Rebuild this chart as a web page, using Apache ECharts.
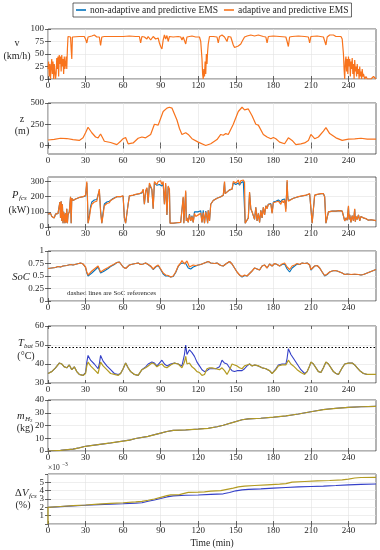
<!DOCTYPE html>
<html><head><meta charset="utf-8">
<script src="https://cdn.jsdelivr.net/npm/echarts@6/dist/echarts.min.js"></script>
<style>html,body{margin:0;padding:0;background:#fff}#c{width:380px;height:550px}</style>
</head><body><div id="c"></div>
<script>
// ---------------- DATA ----------------
const xTicks = [0,30,60,90,120,150,180,210,240];
const xMax = 262;
const seriesNames = ['non-adaptive and predictive EMS','adaptive and predictive EMS'];

const speedTicks = [0,25,50,75,100];
const speedAdaptive = [[0,20],[0.5,35],[1,5],[1.5,30],[2,0],[2.5,25],[3,40],[3.5,10],[4,35],[4.5,0],[5,30],[5.5,15],[6,0],[6.5,10],[7,42],[7.5,20],[8,45],[8.5,5],[9,48],[9.5,30],[10,45],[10.5,15],[11,48],[11.5,25],[12,40],[12.5,10],[13,45],[13.5,20],[14,30],[14.5,45],[15,20],[15.5,60],[16,85],[17,85],[18,84],[18.5,60],[19,40],[19.5,84],[20,85],[25,85],[29,85],[30,80],[31,72],[32,84],[35,86],[37,88],[39,84],[41,84],[42,67],[43,84],[45,85],[50,85],[55,85],[60,85],[65,86],[70,85],[73,85],[74,72],[75,85],[77,84],[79,80],[80,85],[82,78],[84,85],[86,80],[88,82],[89,72],[90,65],[91,60],[92,78],[93,88],[94,80],[95,87],[96,75],[97,85],[98,87],[100,84],[104,85],[106,84],[107,78],[108,84],[110,70],[111,84],[115,86],[118,84],[121,84],[122,75],[123,40],[123.5,10],[124,0],[124.5,20],[125,5],[125.5,35],[126,10],[126.5,50],[127,30],[127.5,55],[128,70],[129,85],[132,85],[135,84],[136,72],[137,85],[139,88],[141,84],[142,86],[143,75],[144,85],[146,84],[147,80],[148,68],[149,63],[150,64],[152,66],[154,70],[155,75],[156,72],[157,84],[158,80],[159,86],[162,88],[165,86],[168,88],[172,85],[174,84],[175,72],[176,85],[180,86],[185,85],[190,84],[191,75],[192,65],[193,84],[195,85],[200,86],[205,85],[208,84],[209,72],[210,85],[215,86],[220,84],[221,80],[222,68],[223,84],[225,88],[228,88],[230,85],[234,85],[235,80],[236,50],[236.5,20],[237,0],[237.5,35],[238,45],[238.5,15],[239,40],[239.5,10],[240,45],[240.5,25],[241,40],[241.5,5],[242,35],[242.5,20],[243,42],[243.5,10],[244,30],[244.5,0],[245,38],[245.5,15],[246,25],[246.5,5],[247,30],[247.5,10],[248,20],[248.5,0],[249,25],[249.5,5],[250,15],[250.5,0],[251,20],[251.5,5],[252,10],[253,0],[254,5],[255,0],[256,3],[258,0],[260,5],[262,0]];

const altTicks = [0,250,500];
const altitude = [[0,65],[5,72],[10,85],[15,82],[20,70],[25,60],[28,90],[30,150],[32,215],[35,150],[38,100],[40,90],[42,135],[44,80],[45,50],[50,35],[55,10],[58,50],[60,80],[62,95],[64,20],[68,30],[72,85],[75,100],[76,80],[78,90],[82,130],[85,250],[88,240],[92,400],[95,440],[96,420],[97,450],[99,440],[100,460],[103,300],[105,200],[107,130],[110,150],[112,130],[113,145],[115,80],[120,40],[126,0],[130,20],[135,70],[138,130],[140,120],[142,140],[144,130],[148,250],[152,400],[155,450],[157,420],[158,440],[160,430],[163,350],[166,250],[168,240],[172,130],[175,100],[178,80],[180,95],[182,80],[185,40],[189,20],[192,90],[195,60],[198,10],[202,20],[205,30],[208,60],[210,130],[213,80],[216,100],[220,170],[222,210],[225,140],[230,90],[235,60],[240,75],[245,78],[250,85],[255,75],[262,75]];

const powerTicks = [0,100,200,300];
const powerAdaptive = [[0,85],[1,75],[2,90],[3,70],[4,80],[5,60],[6,85],[7,75],[8,90],[9,80],[9.5,165],[10,60],[10.5,170],[11,40],[11.5,150],[12,25],[12.5,100],[13,70],[13.5,25],[14,90],[14.5,30],[15,120],[15.5,25],[16,80],[17,100],[18,200],[18.5,25],[19,190],[20,175],[22,185],[25,195],[28,200],[30,210],[31,300],[31.5,200],[32,25],[33,60],[34,120],[35,150],[37,165],[39,170],[40,175],[41,250],[42,100],[43,25],[44,80],[45,140],[47,155],[49,160],[50,175],[52,185],[55,200],[58,200],[60,205],[61,60],[62,25],[63,25],[64,150],[65,205],[68,210],[70,215],[73,220],[75,230],[76,250],[77,150],[78,240],[79,260],[80,160],[81,290],[82,300],[83,250],[84,120],[85,300],[86,310],[87,280],[88,300],[89,290],[90,305],[91,280],[92,300],[93,150],[94,290],[95,80],[96,270],[97,250],[97.5,25],[100,25],[103,28],[106,30],[107,35],[108,200],[108.5,25],[109,30],[110,240],[110.5,40],[111,60],[112,30],[113,80],[114,40],[115,70],[116,30],[117,90],[118,70],[120,80],[122,90],[123,30],[124,95],[125,25],[126,100],[127,60],[127.5,25],[128,110],[129,40],[130,150],[132,175],[135,190],[138,200],[140,210],[141,300],[141.5,220],[143,230],[145,245],[147,250],[148,300],[149,310],[150,290],[151,300],[152,310],[153,280],[154,305],[155,300],[156,310],[157,295],[157.5,25],[159,30],[160,60],[161,230],[162,120],[163,100],[164,90],[165,50],[166,130],[167,40],[168,90],[169,30],[170,110],[171,60],[172,130],[173,80],[174,140],[175,120],[176,150],[178,150],[179,90],[180,160],[182,165],[184,170],[186,150],[187,175],[188,160],[189,180],[190,100],[191,310],[191.5,200],[192,170],[194,180],[196,190],[198,195],[200,200],[203,205],[206,210],[209,220],[210,215],[211,25],[212,30],[213,210],[215,215],[218,220],[220,220],[221,200],[222,25],[223,30],[224,100],[227,105],[230,105],[233,108],[235,105],[236,110],[237,40],[238,60],[239,45],[240,140],[240.5,50],[241,80],[242,30],[243,75],[244,40],[245,120],[245.5,35],[246,70],[247,50],[248,80],[249,40],[250,70],[252,60],[254,55],[256,45],[258,48],[260,45],[262,42]];
const powerNonAdaptive = [[0,85],[1,75],[2,90],[3,70],[4,80],[5,60],[6,85],[7,75],[8,90],[9,80],[9.5,165],[10,60],[10.5,170],[11,40],[11.5,150],[12,25],[12.5,100],[13,70],[13.5,25],[14,90],[14.5,30],[15,120],[15.5,25],[16,80],[17,100],[18,200],[18.5,25],[19,190],[20,175],[22,185],[25,195],[28,200],[30,205],[31,290],[31.5,190],[32,25],[33,75],[34,135],[35,165],[37,178],[39,182],[40,185],[41,240],[42,110],[43,25],[44,95],[45,152],[47,165],[49,170],[50,180],[52,188],[55,200],[58,200],[60,205],[61,60],[62,25],[63,25],[64,150],[65,205],[68,210],[70,215],[73,220],[75,225],[76,245],[77,150],[78,235],[79,255],[80,160],[81,280],[82,290],[83,245],[84,120],[85,290],[86,300],[87,275],[88,285],[89,280],[90,290],[91,270],[92,285],[93,150],[94,280],[95,80],[96,265],[97,245],[97.5,25],[100,25],[103,28],[106,30],[107,35],[108,195],[108.5,25],[109,30],[110,230],[110.5,40],[111,60],[112,30],[113,85],[114,40],[115,75],[116,30],[117,100],[118,90],[120,100],[122,108],[123,30],[124,110],[125,25],[126,105],[127,60],[127.5,25],[128,110],[129,40],[130,150],[132,175],[135,190],[138,200],[140,210],[141,295],[141.5,220],[143,230],[145,245],[147,250],[148,290],[149,295],[150,280],[151,285],[152,290],[153,275],[154,290],[155,290],[156,300],[157,290],[157.5,25],[159,30],[160,60],[161,225],[162,120],[163,100],[164,90],[165,50],[166,130],[167,40],[168,90],[169,30],[170,110],[171,60],[172,130],[173,80],[174,140],[175,125],[176,150],[178,155],[179,95],[180,165],[182,170],[184,178],[186,165],[187,180],[188,170],[189,185],[190,120],[191,300],[191.5,200],[192,175],[194,182],[196,190],[198,195],[200,200],[203,205],[206,210],[209,218],[210,215],[211,25],[212,30],[213,210],[215,215],[218,220],[220,220],[221,200],[222,25],[223,30],[224,100],[227,105],[230,105],[233,108],[235,105],[236,110],[237,40],[238,60],[239,45],[240,135],[240.5,50],[241,80],[242,30],[243,75],[244,40],[245,115],[245.5,35],[246,70],[247,50],[248,80],[249,40],[250,70],[252,60],[254,55],[256,45],[258,48],[260,45],[262,42]];

const socTicks = [0,0.25,0.5,0.75,1];
const socAdaptive = [[0,0.65],[3,0.66],[6,0.67],[8,0.69],[10,0.68],[12,0.70],[15,0.71],[18,0.73],[20,0.72],[23,0.74],[26,0.76],[28,0.74],[30,0.68],[31,0.58],[32,0.52],[33,0.54],[35,0.60],[38,0.66],[40,0.70],[41,0.68],[42,0.58],[43,0.57],[45,0.63],[48,0.67],[50,0.70],[53,0.74],[55,0.77],[57,0.78],[58,0.74],[60,0.68],[62,0.65],[63,0.64],[65,0.72],[68,0.74],[70,0.75],[72,0.76],[74,0.73],[76,0.74],[78,0.76],[80,0.73],[82,0.70],[84,0.64],[86,0.69],[88,0.72],[90,0.64],[92,0.56],[94,0.52],[96,0.51],[98,0.48],[100,0.50],[102,0.58],[104,0.70],[106,0.76],[107,0.81],[108,0.77],[109,0.74],[110,0.78],[111,0.80],[112,0.74],[113,0.68],[114,0.70],[116,0.72],[118,0.71],[120,0.72],[122,0.73],[124,0.75],[126,0.77],[128,0.79],[130,0.76],[133,0.75],[135,0.76],[138,0.71],[140,0.70],[142,0.74],[145,0.79],[147,0.74],[149,0.66],[151,0.58],[153,0.52],[155,0.49],[157,0.52],[159,0.50],[161,0.55],[163,0.60],[165,0.66],[167,0.64],[169,0.62],[171,0.70],[173,0.72],[175,0.66],[177,0.74],[179,0.70],[181,0.75],[183,0.73],[185,0.70],[187,0.74],[189,0.76],[191,0.68],[192,0.64],[193,0.63],[195,0.70],[197,0.72],[199,0.75],[201,0.73],[203,0.76],[205,0.75],[207,0.76],[209,0.72],[210,0.63],[211,0.62],[213,0.70],[215,0.71],[217,0.66],[219,0.58],[221,0.51],[223,0.54],[225,0.58],[227,0.60],[229,0.61],[231,0.60],[233,0.58],[235,0.56],[237,0.53],[239,0.54],[242,0.53],[245,0.54],[248,0.53],[250,0.52],[252,0.53],[254,0.55],[256,0.57],[258,0.59],[260,0.61],[262,0.63]];
const socNonAdaptive = [[0,0.65],[3,0.66],[6,0.67],[8,0.69],[10,0.68],[12,0.70],[15,0.71],[18,0.73],[20,0.72],[23,0.74],[26,0.76],[28,0.74],[30,0.67],[31,0.56],[32,0.50],[33,0.51],[35,0.56],[38,0.63],[40,0.68],[41,0.66],[42,0.56],[43,0.55],[45,0.60],[48,0.65],[50,0.69],[53,0.73],[55,0.77],[57,0.78],[58,0.74],[60,0.68],[62,0.65],[63,0.64],[65,0.72],[68,0.74],[70,0.75],[72,0.76],[74,0.73],[76,0.74],[78,0.76],[80,0.73],[82,0.69],[84,0.63],[86,0.68],[88,0.71],[90,0.63],[92,0.54],[94,0.50],[96,0.50],[98,0.48],[100,0.49],[102,0.57],[104,0.69],[106,0.75],[107,0.79],[108,0.76],[109,0.72],[110,0.75],[111,0.74],[112,0.66],[113,0.62],[114,0.64],[116,0.68],[118,0.70],[120,0.72],[122,0.73],[124,0.75],[126,0.77],[128,0.79],[130,0.76],[133,0.75],[135,0.76],[138,0.71],[140,0.70],[142,0.74],[145,0.79],[147,0.74],[149,0.66],[151,0.58],[153,0.52],[155,0.48],[157,0.51],[159,0.50],[161,0.55],[163,0.60],[165,0.66],[167,0.64],[169,0.62],[171,0.70],[173,0.72],[175,0.66],[177,0.74],[179,0.70],[181,0.75],[183,0.73],[185,0.70],[187,0.73],[189,0.74],[191,0.64],[192,0.60],[193,0.58],[195,0.66],[197,0.70],[199,0.74],[201,0.73],[203,0.76],[205,0.75],[207,0.76],[209,0.72],[210,0.62],[211,0.61],[213,0.70],[215,0.71],[217,0.66],[219,0.58],[221,0.50],[223,0.53],[225,0.58],[227,0.60],[229,0.61],[231,0.60],[233,0.58],[235,0.56],[237,0.53],[239,0.54],[242,0.53],[245,0.53],[248,0.53],[250,0.52],[252,0.53],[254,0.55],[256,0.57],[258,0.59],[260,0.61],[262,0.63]];

const tempTicks = [30,40,50,60];
const tempLimit = 49;
const tempAdaptive = [[0,35],[3,36],[6,38],[9,40.5],[11,40],[13,38.5],[15,38],[17,39.5],[19,37],[21,38.5],[23,36],[25,34.5],[28,34],[30,35],[31,39],[32,41],[34,39],[37,37],[40,35],[41,38],[42,41],[44,39],[47,37],[50,35],[53,34.5],[56,34],[58,35],[60,37.5],[62,40.5],[64,38],[66,36],[69,34.5],[72,34],[75,37],[78,38],[80,39],[83,40.5],[85,40],[87,38.5],[89,39.5],[91,40],[93,38.5],[95,38],[98,39.5],[101,40.5],[104,40],[107,38],[108,38],[109,41],[110,44],[111,40],[113,40.5],[115,38.5],[117,37.5],[119,36],[121,35.5],[123,34],[125,34.5],[127,37.5],[129,38],[131,38],[134,37.5],[137,37],[139,38],[141,36.5],[143,34.5],[145,37],[147,40],[149,39.5],[151,39],[153,38],[155,37.5],[157,39],[159,39.5],[161,40],[163,39],[165,39.5],[168,39],[171,38],[174,37.5],[177,36.5],[179,35],[180,34],[182,37],[184,39],[187,39.5],[190,39.5],[191,40],[192,42],[194,40],[196,39],[199,37],[202,35.5],[205,34.5],[207,36],[209,39],[210,41],[212,40],[214,38],[216,36],[218,35.5],[220,38],[222,41],[224,40],[226,38],[228,36],[230,35],[232,34.5],[235,38],[237,40],[240,40.5],[243,40.5],[245,39.5],[247,38],[249,36.5],[252,35],[255,34.5],[258,34.5],[262,34.5]];
const tempNonAdaptive = [[0,35],[3,36],[6,38],[9,40.5],[11,40],[13,38.5],[15,38],[17,39.5],[19,37],[21,38.5],[23,36],[25,34.5],[28,34],[30,35.5],[31,41],[32,44.5],[34,42],[37,40],[40,37.5],[41,40],[42,44.5],[44,41.5],[47,39],[50,37],[53,35],[56,34.5],[58,35],[60,37.5],[62,40.5],[64,38],[66,36],[69,34.5],[72,34],[75,37],[78,38.5],[80,40],[83,41],[85,40.5],[87,39],[89,40.5],[91,42],[93,40],[95,39],[98,40],[101,40.5],[104,40],[107,39],[108,40],[109,45],[110,50],[111,45],[112,44],[113,47.5],[115,46],[117,44],[119,41],[121,39],[123,37],[125,36],[127,36.5],[129,37.5],[131,37.5],[134,37.5],[137,38.5],[139,42],[141,40.5],[143,40],[145,38],[147,36.5],[149,36],[151,36.5],[153,36.5],[155,36.5],[157,37.5],[159,39],[161,40],[163,39],[165,39.5],[168,39],[171,38],[174,37.5],[177,36.5],[179,35],[180,34.5],[182,37.5],[184,39.5],[187,40],[190,40],[191,43],[192,48],[194,45],[196,43],[199,40],[202,37],[205,35],[207,36],[209,39],[210,41],[212,40],[214,38],[216,36],[218,35.5],[220,38],[222,41],[224,40],[226,38],[228,36],[230,35],[232,34.5],[235,38],[237,40],[240,40.5],[243,40.5],[245,39.5],[247,38],[249,36.5],[252,35],[255,34.5],[258,34.5],[262,34.5]];

const h2Ticks = [0,10,20,30,40];
const h2Adaptive = [[0,0],[10,0.5],[20,1.5],[25,2.5],[30,3.7],[40,5],[50,6.3],[60,7.8],[65,8.5],[70,9.8],[80,11.5],[90,14],[95,15.3],[100,16.2],[110,16.5],[120,17.2],[128,17.8],[135,19],[140,20.2],[148,22.5],[155,24.5],[160,25.2],[170,25.7],[180,26.5],[190,27.5],[200,29],[210,30.8],[220,32.5],[230,33.5],[240,34.2],[250,34.7],[262,35]];
const h2NonAdaptive = [[0,0],[10,0.5],[20,1.5],[25,2.5],[30,3.7],[40,5],[50,6.3],[60,7.8],[65,8.5],[70,9.8],[80,11.5],[90,14],[95,15.3],[100,16.2],[110,16.5],[120,17.2],[128,17.8],[135,19],[140,20.2],[148,22.5],[155,24.5],[160,25.2],[170,25.7],[180,26.5],[190,27.5],[200,29],[210,30.8],[220,32.5],[230,33.5],[240,34.2],[250,34.7],[262,35]];

const dvTicks = [0,1,2,3,4,5,6];
const dvAdaptive = [[0,0],[0,2],[10,2.1],[20,2.2],[30,2.28],[40,2.38],[50,2.47],[60,2.55],[70,2.65],[75,2.72],[80,2.85],[85,3.0],[90,3.2],[95,3.4],[98,3.5],[105,3.52],[108,3.65],[112,3.8],[120,3.82],[125,3.85],[130,3.95],[138,4.0],[143,4.15],[148,4.3],[152,4.45],[157,4.55],[165,4.62],[175,4.7],[185,4.78],[190,4.85],[195,5.02],[205,5.1],[215,5.17],[225,5.22],[235,5.3],[240,5.38],[245,5.52],[250,5.58],[262,5.6]];
const dvNonAdaptive = [[0,2],[10,2.08],[20,2.18],[30,2.25],[40,2.32],[50,2.38],[60,2.43],[70,2.5],[75,2.55],[80,2.72],[85,2.88],[90,3.05],[95,3.25],[100,3.38],[110,3.45],[120,3.48],[130,3.55],[140,3.62],[145,3.78],[150,3.98],[155,4.1],[160,4.15],[170,4.22],[180,4.3],[190,4.38],[200,4.45],[210,4.5],[220,4.55],[230,4.62],[240,4.7],[250,4.75],[262,4.8]];

// ---------------- STYLE / LAYOUT ----------------
const FONT = 'Liberation Serif';
const INK = '#262626';
const C_BLUE = '#0072BD', C_ORANGE = '#F8731C';
const C_BLUE2 = '#3440C8', C_GOLD = '#B39B22';
const panels = [
  {top:29, h:50, min:0, max:100, ticks:speedTicks, s:[null,[speedAdaptive,C_ORANGE]]},
  {top:103, h:51, min:-100, max:500, ticks:altTicks, s:[null,[altitude,C_ORANGE]]},
  {top:177, h:50, min:0, max:330, ticks:powerTicks, s:[[powerNonAdaptive,C_BLUE],[powerAdaptive,C_ORANGE]]},
  {top:251, h:50, min:0, max:1, ticks:socTicks, s:[[socNonAdaptive,C_BLUE],[socAdaptive,C_ORANGE]]},
  {top:326, h:57, min:30, max:60, ticks:tempTicks, s:[[tempNonAdaptive,C_BLUE2],[tempAdaptive,C_GOLD]], limit:tempLimit},
  {top:400, h:51, min:0, max:40, ticks:h2Ticks, s:[[h2NonAdaptive,C_BLUE2],[h2Adaptive,C_GOLD]]},
  {top:474, h:50, min:0, max:6, ticks:dvTicks, s:[[dvNonAdaptive,C_BLUE2],[dvAdaptive,C_GOLD]]}
];
const grids=[], xAxes=[], yAxes=[], series=[];
const tickStyle = {color:INK, width:0.7};
const gridLine = {show:true, lineStyle:{color:'#e3e3e3', width:0.6}};
const N = panels.length;
panels.forEach((p,i)=>{
  grids.push({left:48, width:328, top:p.top, height:p.h, show:true, borderColor:INK, borderWidth:0.7, backgroundColor:'#fff'});
  xAxes[i] = {type:'value', gridIndex:i, min:0, max:xMax, position:'bottom',
    axisLine:{show:false},
    axisTick:{inside:true, length:3, lineStyle:tickStyle, customValues:xTicks},
    axisLabel:{customValues:xTicks, fontFamily:FONT, fontSize:9, color:INK, margin:2},
    splitLine:gridLine};
  yAxes[i] = {type:'value', gridIndex:i, min:p.min, max:p.max, position:'left',
    axisLine:{show:false},
    axisTick:{inside:true, length:3, lineStyle:tickStyle, customValues:p.ticks},
    axisLabel:{customValues:p.ticks, fontFamily:FONT, fontSize:9, color:INK, margin:4},
    splitLine:gridLine};
  // mirrored box ticks (top / right)
  xAxes[N+i] = {type:'value', gridIndex:i, min:0, max:xMax, position:'top',
    axisLine:{show:false}, axisLabel:{show:false}, splitLine:{show:false},
    axisTick:{inside:true, length:3, lineStyle:tickStyle, customValues:xTicks}};
  yAxes[N+i] = {type:'value', gridIndex:i, min:p.min, max:p.max, position:'right',
    axisLine:{show:false}, axisLabel:{show:false}, splitLine:{show:false},
    axisTick:{inside:true, length:3, lineStyle:tickStyle, customValues:p.ticks}};
  p.s.forEach((d,k)=>{
    if(!d) return;
    const s = {type:'line', name:seriesNames[k], xAxisIndex:i, yAxisIndex:i, data:d[0],
      showSymbol:false, symbol:'none', color:d[1], lineStyle:{color:d[1], width: k===1?1.2:1.1}, z: 2+k};
    if(p.limit!==undefined && k===1){
      s.markLine = {silent:true, symbol:'none', label:{show:false},
        lineStyle:{color:'#000', type:[1.5,2], width:1}, data:[{yAxis:p.limit}]};
    }
    series.push(s);
  });
});

function txt(x,y,t,size,italic,align){
  return {type:'text', x:x, y:y, silent:true, style:{text:t, fill:INK, fontFamily:FONT,
    fontSize:size, fontStyle: italic?'italic':'normal', textAlign:align||'center', textVerticalAlign:'middle'}};
}
const graphics = [
  txt(17,43,'v',10,false), txt(17,56,'(km/h)',10,false),
  txt(22,119,'z',10,false), txt(22,131,'(m)',10,false),
  txt(12,195,'P',10.5,true,'left'), txt(19,198,'fcs',7,true,'left'), txt(19,210,'(kW)',10,false),
  txt(21,277,'SoC',10.5,true),
  txt(18,343,'T',10.5,true,'left'), txt(24,346,'bat',7,true,'left'), txt(26,356,'(°C)',10,false),
  txt(17,416,'m',10.5,true,'left'), txt(25,419,'H',7,true,'left'), txt(30,421,'2',5,false,'left'), txt(25,428,'(kg)',10,false),
  txt(15,493,'Δ',10.5,false,'left'), txt(22,493,'V',10.5,true,'left'), txt(29,496,'fcs',7,true,'left'), txt(23,505,'(%)',10,false),
  txt(48,468,'×10',7.5,false,'left'), txt(62,465,'−3',5.5,false,'left'),
  txt(67,293,'dashed lines are SoC references',7,false,'left'),
  txt(212,543,'Time (min)',9.5,false)
];

const chart = echarts.init(document.getElementById('c'), null, {renderer:'canvas'});
chart.setOption({
  animation:false, backgroundColor:'#fff',
  legend:{data:seriesNames, left:73, top:3, orient:'horizontal', icon:'rect', itemWidth:10, itemHeight:1.6,
    itemGap:6, padding:[2,3,2,3], borderColor:INK, borderWidth:0.7, backgroundColor:'#fff',
    textStyle:{fontFamily:FONT, fontSize:9.5, color:INK, padding:[0,0,0,-1]}},
  grid:grids, xAxis:xAxes, yAxis:yAxes, series:series, graphic:graphics
});
</script></body></html>
